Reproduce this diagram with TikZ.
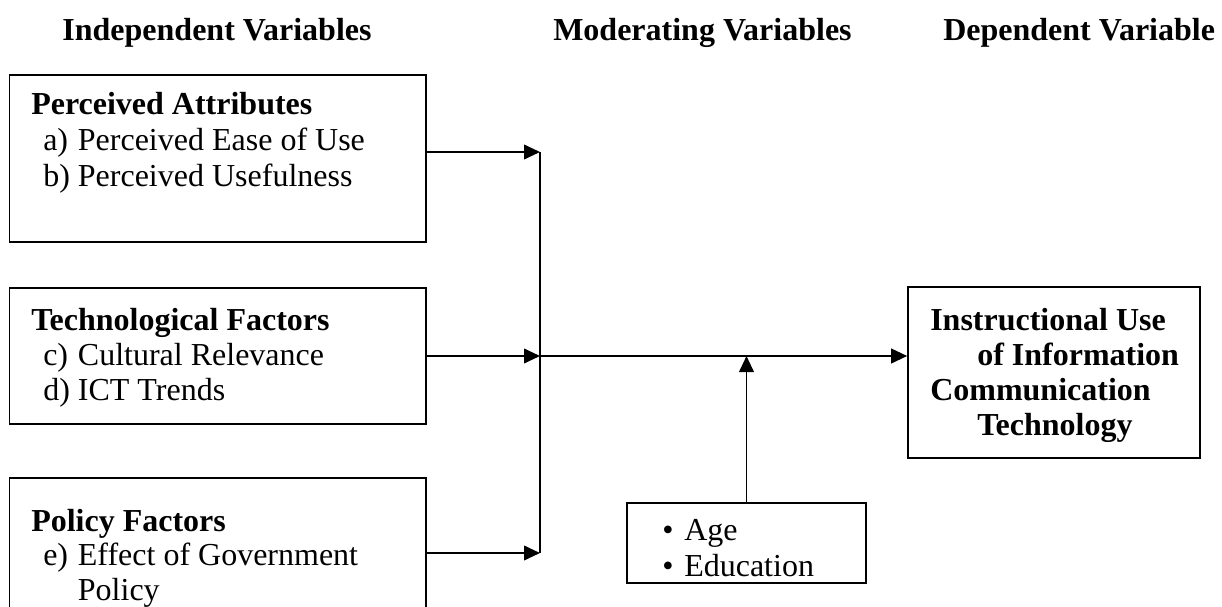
\documentclass[tikz,border=0pt]{standalone}
\usepackage{fontspec}
\setmainfont{Liberation Serif}
\usetikzlibrary{arrows.meta}
\tikzset{
  box/.style={draw, line width=1.2pt, inner sep=0pt},
  txt/.style={anchor=base west, inner sep=0pt, font=\fontsize{24}{28}\selectfont},
  btxt/.style={txt, font=\fontsize{24}{28}\selectfont\bfseries},
  arr/.style={line width=1.4pt, -{Triangle[length=12pt,width=11pt]}},
  ln/.style={line width=1.4pt}
}
\newcommand{\lbl}[1]{\makebox[26pt][l]{#1}}
\newcommand{\bul}{\makebox[16.5pt][l]{•}}
\begin{document}
\begin{tikzpicture}[x=0.75pt,y=-0.75pt]
\clip (0,0) rectangle (1222,607);
% headers
\node[btxt, anchor=base] (h1) at (217,40) {Independent Variables};
\node[btxt] (h2) at (553,40) {Moderating Variables};
\node[btxt] (h3) at (943,40) {Dependent Variable};
% boxes
\node[box, minimum width=312.4pt, minimum height=125.25pt] (b1) at (217.75,158.5) {};
\node[box, minimum width=312.4pt, minimum height=102pt] (b2) at (217.75,356) {};
\node[box, minimum width=312.4pt, minimum height=123pt] (b3) at (217.75,560) {};
\node[box, minimum width=219pt, minimum height=128.25pt] (rb) at (1054,372.5) {};
\node[box, minimum width=179.25pt, minimum height=60pt] (mb) at (746.5,543) {};
% box 1 text
\node[btxt] (t1) at (31,114) {Perceived Attributes};
\node[txt] (t1a) at (43,150) {\lbl{a)}Perceived Ease of Use};
\node[txt] (t1b) at (43,186) {\lbl{b)}Perceived Usefulness};
% box 2 text
\node[btxt] (t2) at (31,330) {Technological Factors};
\node[txt] (t2c) at (43,365) {\lbl{c)}Cultural Relevance};
\node[txt] (t2d) at (43,400) {\lbl{d)}ICT Trends};
% box 3 text
\node[btxt] (t3) at (31,531) {Policy Factors};
\node[txt] (t3e) at (43,565) {\lbl{e)}Effect of Government};
\node[txt] (t3f) at (43,600) {\lbl{}Policy};
% right box text
\node[btxt] (r1) at (930,330) {Instructional Use};
\node[btxt] (r2) at (977,365) {of Information};
\node[btxt] (r3) at (930,400) {Communication};
\node[btxt] (r4) at (977,435) {Technology};
% moderating text
\node[txt] (m1) at (662,540) {\bul Age};
\node[txt] (m2) at (662,576) {\bul Education};
% junctions
\coordinate (J1) at (540,152);
\coordinate (J2) at (540,356);
\coordinate (J3) at (540,553);
% connectors
\draw[arr] (b1.east |- J1) -- (J1);
\draw[arr] (b2.east |- J2) -- (J2);
\draw[arr] (b3.east |- J3) -- (J3);
\draw[ln] (J1) -- (J3);
\draw[arr] (J2) -- (J2 -| rb.west);
\draw[arr] (mb.north) -- (mb.north |- J2);
\end{tikzpicture}
\end{document}
